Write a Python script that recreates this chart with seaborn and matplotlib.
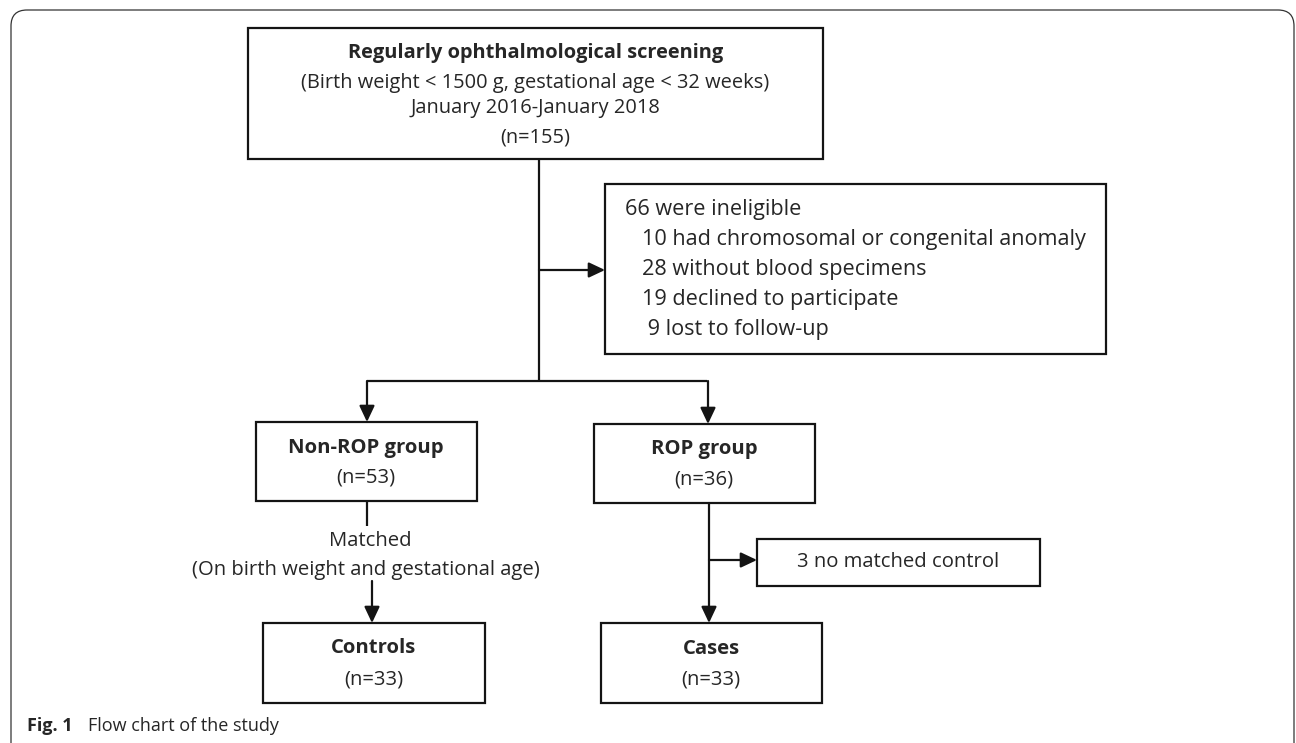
import matplotlib
matplotlib.use('Agg')
import matplotlib.pyplot as plt
import seaborn as sns
from matplotlib.patches import Rectangle, FancyBboxPatch, FancyArrowPatch

# Flow chart content
screen_title = "Regularly ophthalmological screening"
screen_criteria = "(Birth weight < 1500 g, gestational age < 32 weeks)"
screen_period = "January 2016-January 2018"
screen_n = 155

excluded_n = 66
exclusion_reasons = ["had chromosomal or congenital anomaly", "without blood specimens",
                     "declined to participate", "lost to follow-up"]
exclusion_counts = [10, 28, 19, 9]

group_names = ["Non-ROP group", "ROP group"]
group_counts = [53, 36]
final_names = ["Controls", "Cases"]
final_counts = [33, 33]
match_label = "Matched"
match_basis = "(On birth weight and gestational age)"
unmatched_n = 3
caption_tag = "Fig. 1"
caption_text = "Flow chart of the study"

sns.set_theme(style="white")
plt.rcParams['font.family'] = ['Open Sans', 'DejaVu Sans']

W, H = 1296, 743
fig = plt.figure(figsize=(W / 100, H / 100), dpi=100)
ax = fig.add_axes([0, 0, 1, 1])
ax.set_xlim(0, W)
ax.set_ylim(H, 0)
ax.axis('off')

INK = '#141414'
LW = 1.6
FS = 14.6       # group / final boxes
FS_TOP = 14.4   # screening box
FS_EXC = 15.6   # exclusion box


def box(x0, y0, x1, y1):
    ax.add_patch(Rectangle((x0, y0), x1 - x0, y1 - y0, facecolor='white',
                           edgecolor=INK, lw=LW, zorder=2))


def line(xs, ys):
    ax.plot(xs, ys, color=INK, lw=LW, solid_capstyle='butt', zorder=1)


def arrow(p0, p1):
    ax.add_patch(FancyArrowPatch(p0, p1, arrowstyle='-|>,head_length=0.7,head_width=0.33',
                                 mutation_scale=14, color=INK, lw=LW,
                                 shrinkA=0, shrinkB=0, zorder=3))


# outer frame (bottom runs past the image edge)
ax.add_patch(FancyBboxPatch((11, 10), 1283, 760, boxstyle='round,pad=0,rounding_size=16',
                            facecolor='none', edgecolor='#333333', lw=0.9, zorder=0))

# top screening box
box(248, 28, 823, 159)
cx = 535.5
ax.text(cx, 53, screen_title, ha='center', va='center', fontsize=FS_TOP, fontweight='bold', zorder=4)
ax.text(cx, 83, screen_criteria, ha='center', va='center', fontsize=FS_TOP, zorder=4)
ax.text(cx, 108, screen_period, ha='center', va='center', fontsize=FS_TOP, zorder=4)
ax.text(cx, 137, f"(n={screen_n})", ha='center', va='center', fontsize=FS_TOP, zorder=4)

# trunk and exclusion branch
line([539, 539], [159, 381])
arrow((539, 270), (605, 270))
box(605, 184, 1106, 354)
ax.text(625, 210, f"{excluded_n} were ineligible", ha='left', va='center', fontsize=FS_EXC, zorder=4)
for i, (n, reason) in enumerate(zip(exclusion_counts, exclusion_reasons)):
    label = f"{n} {reason}" if n >= 10 else f" {n} {reason}"
    ax.text(642, 240 + 30 * i, label, ha='left', va='center', fontsize=FS_EXC, zorder=4)

# split into groups
line([367, 707], [381, 381])
left_x, right_x = 367, 708
arrow((left_x, 381), (left_x, 422))
arrow((right_x, 381), (right_x, 424))

box(256, 422, 477, 501)
box(594, 424, 815, 503)
ax.text(366, 448, group_names[0], ha='center', va='center', fontsize=FS, fontweight='bold', zorder=4)
ax.text(366, 478, f"(n={group_counts[0]})", ha='center', va='center', fontsize=FS, zorder=4)
ax.text(704, 449, group_names[1], ha='center', va='center', fontsize=FS, fontweight='bold', zorder=4)
ax.text(704, 479, f"(n={group_counts[1]})", ha='center', va='center', fontsize=FS, zorder=4)

# matching on the control side
line([left_x, left_x], [501, 526])
ax.text(370, 541, match_label, ha='center', va='center', fontsize=FS, zorder=4)
ax.text(366, 570, match_basis, ha='center', va='center', fontsize=FS, zorder=4)
arrow((372, 581), (372, 623))

# unmatched cases
arrow((709, 503), (709, 623))
arrow((709, 560), (757, 560))
box(757, 539, 1040, 586)
ax.text(898, 562, f"{unmatched_n} no matched control", ha='center', va='center', fontsize=FS, zorder=4)

# final boxes
box(263, 623, 485, 703)
box(601, 623, 822, 703)
ax.text(374, 648, final_names[0], ha='center', va='center', fontsize=FS, fontweight='bold', zorder=4)
ax.text(374, 679, f"(n={final_counts[0]})", ha='center', va='center', fontsize=FS, zorder=4)
ax.text(711, 649, final_names[1], ha='center', va='center', fontsize=FS, fontweight='bold', zorder=4)
ax.text(711, 679, f"(n={final_counts[1]})", ha='center', va='center', fontsize=FS, zorder=4)

# caption
ax.text(27, 726, caption_tag, ha='left', va='center', fontsize=13, fontweight='bold')
ax.text(88, 726, caption_text, ha='left', va='center', fontsize=13)

fig.savefig('out.png', dpi=100)
